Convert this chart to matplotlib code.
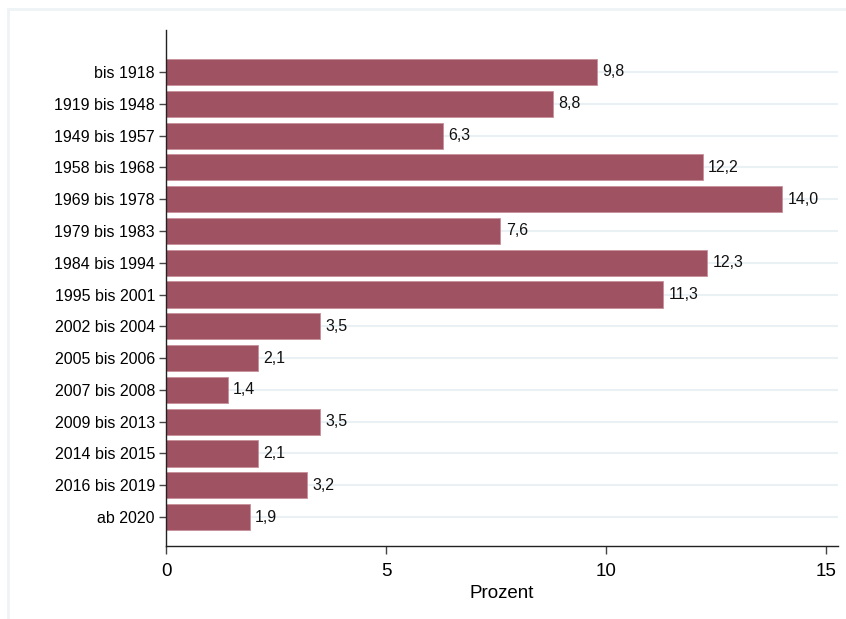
import matplotlib.pyplot as plt
from matplotlib.lines import Line2D

plt.rcParams['font.family'] = ['Liberation Sans', 'DejaVu Sans']

kategorien = ['bis 1918', '1919 bis 1948', '1949 bis 1957', '1958 bis 1968',
              '1969 bis 1978', '1979 bis 1983', '1984 bis 1994', '1995 bis 2001',
              '2002 bis 2004', '2005 bis 2006', '2007 bis 2008', '2009 bis 2013',
              '2014 bis 2015', '2016 bis 2019', 'ab 2020']
prozent = [9.8, 8.8, 6.3, 12.2, 14.0, 7.6, 12.3, 11.3,
           3.5, 2.1, 1.4, 3.5, 2.1, 3.2, 1.9]
x_ticks = [0, 5, 10, 15]

fig = plt.figure(figsize=(8.46, 6.19), dpi=100)
ax = fig.add_axes([166 / 846, 1 - 546 / 619, (838 - 166) / 846, (546 - 30) / 619])

pos = list(range(len(kategorien)))
for p in pos:
    ax.axhline(p, color='#eaf1f4', lw=1.5, zorder=0)

ax.barh(pos, prozent, height=0.82, color='#9e5262', edgecolor='#c78f9a',
        linewidth=0.6, zorder=2)
for p, v in zip(pos, prozent):
    ax.text(v + 0.12, p, f'{v:.1f}'.replace('.', ','), va='center', ha='left',
            fontsize=11.5, color='#111111', zorder=3)

ax.set_yticks(pos)
ax.set_yticklabels(kategorien, fontsize=11.5)
ax.set_ylim(len(kategorien) - 1 + 0.91, -1.32)
ax.set_xlim(0, 15.27)
ax.set_xticks(x_ticks)
ax.set_xticklabels([str(t) for t in x_ticks], fontsize=13.5)
ax.set_xlabel('Prozent', fontsize=13.5, labelpad=4)

for s in ['top', 'right']:
    ax.spines[s].set_visible(False)
for s in ['left', 'bottom']:
    ax.spines[s].set_color('#222222')
    ax.spines[s].set_linewidth(1.0)
ax.tick_params(axis='y', length=5, width=1, color='#444444', pad=3)
ax.tick_params(axis='x', length=6, width=1, color='#444444', pad=6)

# heller Rahmen der Grafikregion
fig.add_artist(Line2D([7.5 / 846, 1], [1 - 8.5 / 619, 1 - 8.5 / 619],
                      color='#eef3f6', lw=2, transform=fig.transFigure))
fig.add_artist(Line2D([7.5 / 846, 7.5 / 846], [0, 1 - 8.5 / 619],
                      color='#eef3f6', lw=2, transform=fig.transFigure))

fig.savefig('out.png', dpi=100)
